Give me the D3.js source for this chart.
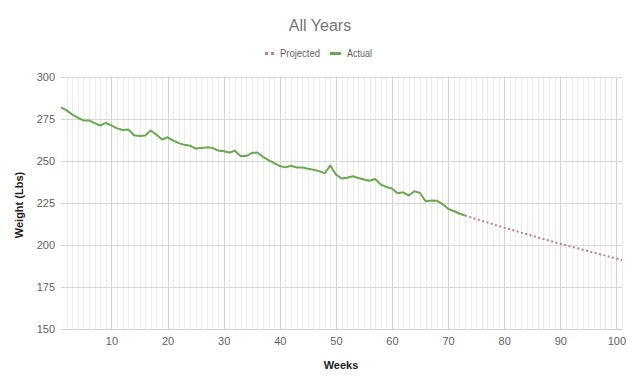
<!DOCTYPE html>
<html>
<head>
<meta charset="utf-8">
<script src="https://cdn.jsdelivr.net/npm/d3@7"></script>
<style>
  html, body { margin: 0; padding: 0; background: #fff; }
  svg { display: block; font-family: Arial, "Liberation Sans", sans-serif; }
</style>
</head>
<body>
<svg id="chart" width="640" height="392"></svg>
<script>
// ---- data ----
const actualWeeks = d3.range(1, 74);
const actualValues = [
  281.7, 279.9, 277.4, 275.5, 273.9, 273.9, 272.3, 270.9, 272.4, 270.8,
  269.2, 268.2, 268.5, 265.1, 264.7, 265.0, 267.9, 265.5, 262.6, 263.9,
  261.9, 260.4, 259.4, 258.9, 257.2, 257.5, 257.9, 257.6, 256.0, 255.6,
  254.9, 255.9, 252.7, 252.7, 254.5, 254.9, 252.3, 250.3, 248.5, 246.8,
  246.0, 247.0, 245.9, 245.9, 245.2, 244.6, 243.8, 242.6, 247.1, 241.8,
  239.4, 239.8, 240.7, 239.7, 238.8, 238.1, 239.1, 235.8, 234.4, 233.5,
  230.6, 231.2, 229.3, 231.8, 230.8, 225.9, 226.4, 226.2, 224.2, 221.4,
  220.1, 218.6, 217.4
];
const projectedWeeks = [73, 80, 90, 101];
const projectedValues = [217.4, 210.2, 200.6, 191.0];
const yTicks = [150, 175, 200, 225, 250, 275, 300];
const xTicks = [10, 20, 30, 40, 50, 60, 70, 80, 90, 100];
const seriesNames = ["Projected", "Actual"];
const seriesColors = ["#c17c92", "#6aa84f"];

// ---- layout ----
const svg = d3.select("#chart");
const pL = 61, pR = 622, pT = 76.5, pB = 329;
const x = d3.scaleLinear().domain([1, 101]).range([pL, pR]);
const y = d3.scaleLinear().domain([150, 300]).range([pB, pT]);

// minor vertical grid
svg.append("g").selectAll("line")
  .data(d3.range(2, 102).filter(w => w % 10 !== 0))
  .join("line")
  .attr("x1", d => Math.round(x(d)) + 0.5).attr("x2", d => Math.round(x(d)) + 0.5)
  .attr("y1", pT).attr("y2", pB)
  .attr("stroke", "#ececec").attr("stroke-width", 1);

// major vertical grid
svg.append("g").selectAll("line")
  .data(xTicks)
  .join("line")
  .attr("x1", d => Math.round(x(d)) + 0.5).attr("x2", d => Math.round(x(d)) + 0.5)
  .attr("y1", pT).attr("y2", pB)
  .attr("stroke", "#d2d2d2").attr("stroke-width", 1);

// horizontal grid
svg.append("g").selectAll("line")
  .data(yTicks)
  .join("line")
  .attr("x1", pL).attr("x2", pR)
  .attr("y1", d => Math.round(y(d)) + 0.5).attr("y2", d => Math.round(y(d)) + 0.5)
  .attr("stroke", d => d === 150 ? "#cfcfcf" : "#d6d6d6").attr("stroke-width", 1);

// axes labels via d3 axes
const yAxis = svg.append("g")
  .attr("transform", `translate(${pL - 6},0)`)
  .call(d3.axisLeft(y).tickValues(yTicks).tickSize(0).tickPadding(0));
yAxis.select(".domain").remove();
yAxis.selectAll("text").attr("fill", "#5f5f5f").attr("font-size", 11).attr("dy", "0.35em");

const xAxis = svg.append("g")
  .attr("transform", `translate(0,${pB + 7})`)
  .call(d3.axisBottom(x).tickValues(xTicks).tickSize(0).tickPadding(0));
xAxis.select(".domain").remove();
xAxis.selectAll("text").attr("fill", "#5f5f5f").attr("font-size", 11).attr("dy", "0.8em");

// lines
const line = d3.line().x(d => x(d[0])).y(d => y(d[1]));
svg.append("path")
  .datum(projectedWeeks.map((w, i) => [w, projectedValues[i]]))
  .attr("d", line)
  .attr("fill", "none")
  .attr("stroke", seriesColors[0])
  .attr("stroke-width", 2)
  .attr("stroke-dasharray", "2,2.5");
svg.append("path")
  .datum(actualWeeks.map((w, i) => [w, actualValues[i]]))
  .attr("d", line)
  .attr("fill", "none")
  .attr("stroke", seriesColors[1])
  .attr("stroke-width", 2)
  .attr("stroke-linejoin", "round");

// title
svg.append("text")
  .attr("x", 320).attr("y", 31)
  .attr("text-anchor", "middle")
  .attr("font-size", 16)
  .attr("fill", "#757575")
  .text("All Years");

// legend
const lg = svg.append("g").attr("font-size", 10.5).attr("fill", "#5f5f5f");
lg.append("line").attr("x1", 265).attr("x2", 274).attr("y1", 53.5).attr("y2", 53.5)
  .attr("stroke", seriesColors[0]).attr("stroke-width", 3).attr("stroke-dasharray", "3,3");
lg.append("text").attr("x", 280).attr("y", 57)
  .attr("textLength", 40).attr("lengthAdjust", "spacingAndGlyphs").text(seriesNames[0]);
lg.append("line").attr("x1", 330).attr("x2", 341).attr("y1", 53.5).attr("y2", 53.5)
  .attr("stroke", seriesColors[1]).attr("stroke-width", 3);
lg.append("text").attr("x", 347).attr("y", 57)
  .attr("textLength", 25).attr("lengthAdjust", "spacingAndGlyphs").text(seriesNames[1]);

// axis titles
svg.append("text")
  .attr("x", 341).attr("y", 369)
  .attr("text-anchor", "middle")
  .attr("font-size", 11).attr("font-weight", "bold").attr("fill", "#222")
  .text("Weeks");
svg.append("text")
  .attr("transform", "translate(23,205) rotate(-90)")
  .attr("text-anchor", "middle")
  .attr("font-size", 11).attr("font-weight", "bold").attr("fill", "#222")
  .text("Weight (Lbs)");
</script>
</body>
</html>
